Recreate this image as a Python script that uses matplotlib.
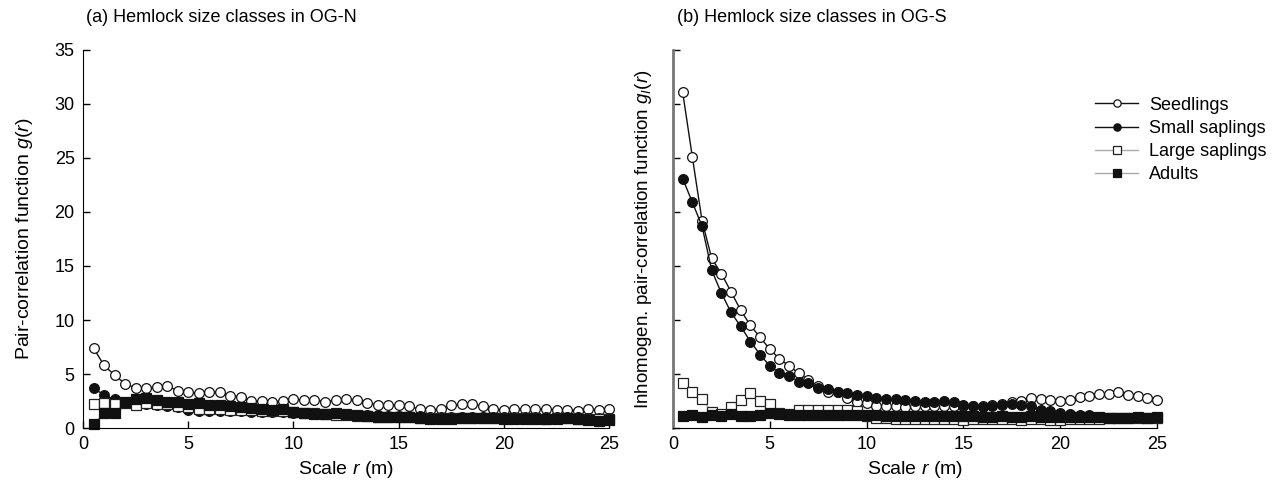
import matplotlib
matplotlib.use("Agg")
import matplotlib.pyplot as plt
import numpy as np

plt.rcParams["font.family"] = ["Liberation Sans", "DejaVu Sans"]
plt.rcParams["mathtext.fontset"] = "custom"
plt.rcParams["mathtext.rm"] = "Liberation Sans"
plt.rcParams["mathtext.it"] = "Liberation Sans:italic"

# scale r (m), 0.5 m steps
r = np.arange(1, 51) * 0.5

# (a) OG-N
a_seedlings = [7.4, 5.8, 4.9, 4.1, 3.7, 3.7, 3.8, 3.9, 3.45, 3.3,
               3.2, 3.35, 3.3, 3.0, 2.9, 2.5, 2.5, 2.45, 2.5, 2.7,
               2.55, 2.6, 2.45, 2.55, 2.65, 2.55, 2.3, 2.15, 2.15, 2.1,
               2.0, 1.75, 1.7, 1.75, 2.1, 2.2, 2.2, 2.0, 1.75, 1.7,
               1.75, 1.75, 1.75, 1.75, 1.7, 1.7, 1.6, 1.75, 1.7, 1.75]
a_small = [3.7, 3.05, 2.65, 2.4, 2.2, 2.2, 2.1, 2.0, 1.9, 1.7,
           1.6, 1.6, 1.6, 1.6, 1.6, 1.5, 1.5, 1.5, 1.5, 1.4,
           1.4, 1.3, 1.3, 1.3, 1.3, 1.2, 1.2, 1.2, 1.1, 1.1,
           1.1, 1.1, 1.0, 1.0, 1.0, 1.0, 1.0, 1.0, 1.0, 1.0,
           1.0, 1.0, 1.0, 1.0, 1.0, 1.0, 1.0, 0.95, 0.9, 0.95]
a_large = [2.2, 2.35, 2.2, 2.3, 2.15, 2.3, 2.25, 2.2, 2.0, 1.9,
           1.8, 1.8, 1.8, 1.7, 1.7, 1.7, 1.6, 1.6, 1.55, 1.5,
           1.4, 1.35, 1.3, 1.2, 1.2, 1.1, 1.1, 1.0, 1.0, 1.0,
           1.0, 0.9, 0.9, 0.9, 0.9, 0.9, 0.9, 0.9, 0.9, 0.9,
           0.9, 0.9, 0.9, 0.85, 0.9, 0.9, 0.85, 0.8, 0.8, 0.8]
a_adults = [0.35, 1.4, 1.4, 2.4, 2.65, 2.8, 2.6, 2.4, 2.4, 2.2,
            2.35, 2.1, 2.1, 2.0, 1.9, 1.85, 1.8, 1.7, 1.75, 1.5,
            1.4, 1.3, 1.3, 1.35, 1.3, 1.2, 1.15, 1.0, 1.0, 1.0,
            1.0, 0.9, 0.8, 0.85, 0.85, 0.9, 0.9, 0.9, 0.9, 0.85,
            0.8, 0.8, 0.85, 0.8, 0.85, 0.9, 0.8, 0.7, 0.65, 0.75]

# (b) OG-S
b_seedlings = [31.1, 25.1, 19.2, 15.7, 14.3, 12.6, 10.9, 9.5, 8.4, 7.3,
               6.4, 5.75, 5.05, 4.45, 3.9, 3.35, 3.3, 2.75, 2.45, 2.3,
               2.05, 2.0, 2.0, 1.95, 2.0, 2.05, 2.0, 2.0, 2.05, 2.0,
               2.0, 2.05, 2.1, 2.2, 2.4, 2.5, 2.78, 2.69, 2.62, 2.53,
               2.56, 2.84, 3.0, 3.15, 3.15, 3.3, 3.09, 3.0, 2.78, 2.62]
b_small = [23.1, 20.9, 18.7, 14.6, 12.5, 10.7, 9.4, 8.0, 6.8, 5.75,
           5.1, 4.85, 4.3, 4.2, 3.75, 3.65, 3.3, 3.2, 3.05, 2.95,
           2.8, 2.7, 2.7, 2.62, 2.5, 2.45, 2.45, 2.47, 2.38, 2.16,
           2.0, 1.94, 2.0, 2.16, 2.22, 2.16, 2.0, 1.64, 1.54, 1.39,
           1.3, 1.23, 1.17, 0.99, 0.93, 0.93, 0.93, 0.93, 0.93, 0.93]
b_large = [4.2, 3.3, 2.65, 1.5, 1.3, 1.95, 2.55, 3.2, 2.5, 2.25,
           1.4, 1.3, 1.65, 1.7, 1.7, 1.7, 1.65, 1.7, 1.6, 1.1,
           0.9, 0.9, 0.85, 0.85, 0.85, 0.8, 0.85, 0.8, 0.8, 0.75,
           0.85, 0.8, 0.8, 0.8, 0.8, 0.75, 0.8, 0.8, 0.75, 0.75,
           0.8, 0.8, 0.8, 0.85, 0.9, 0.9, 0.9, 0.9, 0.9, 0.9]
b_adults = [1.14, 1.2, 1.05, 1.23, 1.14, 1.3, 1.14, 1.14, 1.23, 1.39,
            1.3, 1.23, 1.2, 1.23, 1.23, 1.23, 1.23, 1.2, 1.23, 1.2,
            1.2, 1.15, 1.15, 1.15, 1.15, 1.1, 1.1, 1.15, 1.1, 1.1,
            1.1, 1.05, 1.05, 1.1, 1.05, 1.05, 1.1, 1.05, 1.05, 1.05,
            1.0, 1.0, 1.0, 1.0, 0.95, 0.95, 0.95, 1.0, 0.95, 1.0]

labels = ["Seedlings", "Small saplings", "Large saplings", "Adults"]
styles = [
    dict(marker="o", mfc="white", mec="#111111", color="#111111"),
    dict(marker="o", mfc="#111111", mec="#111111", color="#111111"),
    dict(marker="s", mfc="white", mec="#222222", color="#aaaaaa"),
    dict(marker="s", mfc="#111111", mec="#111111", color="#aaaaaa"),
]

fig = plt.figure(figsize=(12.77, 4.84), dpi=100)
ax1 = fig.add_axes([0.065, 0.1157, 0.412, 0.781])
ax2 = fig.add_axes([0.527, 0.1157, 0.379, 0.781])

for ax, series in [(ax1, [a_seedlings, a_small, a_large, a_adults]),
                   (ax2, [b_seedlings, b_small, b_large, b_adults])]:
    for y, lab, st in zip(series, labels, styles):
        ax.plot(r, y, lw=1.0, ms=7, mew=0.9, label=lab, clip_on=False, **st)
    ax.set_xlim(0, 25)
    ax.set_ylim(0, 35)
    ax.set_xticks([0, 5, 10, 15, 20, 25])
    ax.set_yticks([0, 5, 10, 15, 20, 25, 30, 35])
    ax.spines["top"].set_visible(False)
    ax.spines["right"].set_visible(False)
    ax.tick_params(direction="in", length=5, width=1, labelsize=13, pad=6)
    ax.set_xlabel("Scale $r$ (m)", fontsize=14, labelpad=4)

ax1.set_ylabel("Pair-correlation function $g(r)$", fontsize=14, labelpad=14)
ax1.set_title("(a) Hemlock size classes in OG-N", loc="left", fontsize=13, pad=20,
              x=0.006)

ax2.set_yticklabels([])
ax2.spines["left"].set_color("#777777")
ax2.spines["left"].set_linewidth(2)
ax2.set_ylabel("Inhomogen. pair-correlation function $g_I(r)$", fontsize=13.5, labelpad=8)
ax2.set_title("(b) Hemlock size classes in OG-S", loc="left", fontsize=13, pad=20,
              x=0.008)

ax2.legend(loc="upper left", bbox_to_anchor=(0.857, 0.896), frameon=False,
           fontsize=13, markerscale=0.75, handlelength=2.4,
           handletextpad=0.6, labelspacing=0.35, borderaxespad=0)

fig.savefig("out.png", dpi=100)
